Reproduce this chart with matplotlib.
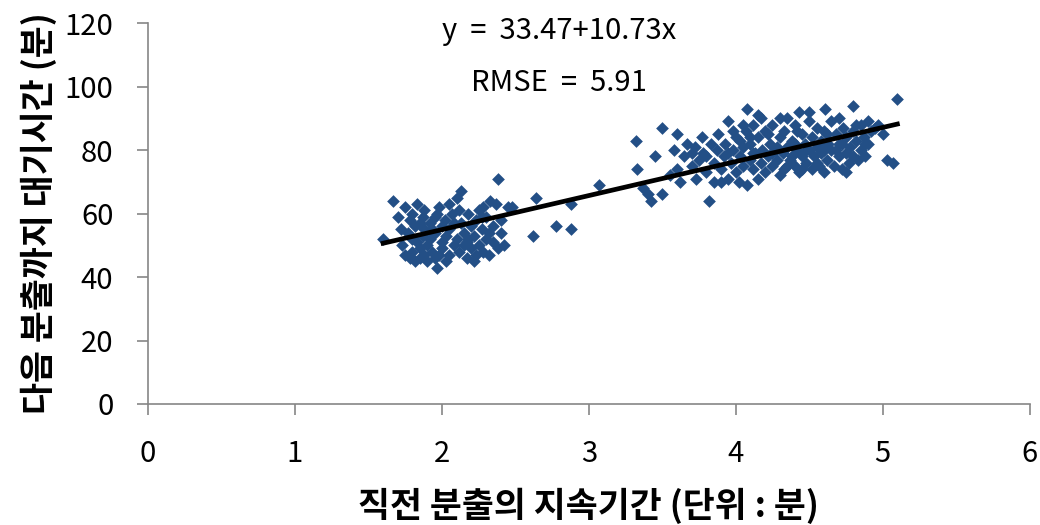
import matplotlib
matplotlib.use('Agg')
import matplotlib.pyplot as plt
import numpy as np

plt.rcParams['font.family'] = ['Noto Sans CJK KR', 'DejaVu Sans']

# 직전 분출 지속시간 (분) / 다음 분출까지 대기시간 (분) - 그림에서 읽은 값
short_x = [1.60, 1.67, 1.70, 1.72, 1.73, 1.75, 1.75, 1.77, 1.78, 1.78, 1.80, 1.80, 1.80,
           1.82, 1.82, 1.83, 1.83, 1.85, 1.85, 1.85, 1.87, 1.87, 1.88, 1.88, 1.90, 1.90,
           1.92, 1.92, 1.93, 1.95, 1.95, 1.97, 1.97, 1.98, 2.00, 2.00, 2.00, 2.02, 2.03,
           2.05, 2.05, 2.07, 2.08, 2.10, 2.10, 2.12, 2.13, 2.13, 2.15, 2.17, 2.17, 2.18,
           2.20, 2.20, 2.22, 2.22, 2.23, 2.25, 2.25, 2.27, 2.28, 2.28, 2.30, 2.30, 2.32,
           2.33, 2.35, 2.35, 2.37, 2.38, 2.38, 2.40, 2.40, 2.42, 2.45, 2.48,
           1.93, 1.98, 2.03, 2.08, 2.12, 2.15, 2.18, 2.23, 2.27, 2.32, 1.88, 1.95, 2.05]
short_y = [52, 64, 59, 55, 50, 62, 47, 54, 46, 58, 60, 48, 52,
           56, 45, 63, 51, 57, 49, 46, 53, 59, 47, 55, 50, 45,
           52, 57, 48, 54, 46, 43, 60, 62, 51, 56, 49, 58, 53,
           47, 55, 60, 50, 52, 65, 48, 67, 57, 54, 46, 51, 60,
           49, 56, 45, 53, 58, 61, 50, 55, 62, 48, 52, 59, 47,
           64, 56, 51, 63, 71, 49, 54, 58, 50, 62, 62,
           55, 47, 45, 57, 61, 50, 52, 47, 59, 54, 61, 59, 63]

mid_x = [2.62, 2.64, 2.78, 2.88, 2.88, 3.07]
mid_y = [53, 65, 56, 55, 63, 69]

long_x = [3.32, 3.33, 3.37, 3.40, 3.42, 3.45, 3.50, 3.50, 3.55, 3.58, 3.60, 3.60, 3.62,
          3.65, 3.67, 3.70, 3.72, 3.73, 3.75, 3.77, 3.78, 3.80, 3.82, 3.83, 3.85, 3.85,
          3.87, 3.88, 3.90, 3.92, 3.93, 3.95, 3.95, 3.97, 3.98, 4.00, 4.00, 4.02, 4.03,
          4.05, 4.05, 4.07, 4.08, 4.08, 4.10, 4.10, 4.12, 4.12, 4.13, 4.15, 4.15, 4.17,
          4.17, 4.18, 4.20, 4.20, 4.22, 4.23, 4.25, 4.25, 4.27, 4.28, 4.30, 4.30, 4.32,
          4.33, 4.33, 4.35, 4.35, 4.37, 4.38, 4.40, 4.40, 4.42, 4.43, 4.43, 4.45, 4.45,
          4.47, 4.48, 4.50, 4.50, 4.52, 4.52, 4.53, 4.55, 4.55, 4.57, 4.58, 4.58, 4.60,
          4.60, 4.61, 4.62, 4.63, 4.65, 4.65, 4.67, 4.68, 4.70, 4.70, 4.72, 4.72, 4.73,
          4.75, 4.75, 4.77, 4.78, 4.80, 4.80, 4.80, 4.82, 4.83, 4.85, 4.85, 4.87, 4.88,
          4.90, 4.92, 4.95, 4.97, 5.00, 5.03, 5.07, 5.10,
          3.90, 4.03, 4.12, 4.22, 4.28, 4.38, 4.42, 4.48, 4.55, 4.62, 4.68, 4.75, 4.82,
          4.88, 4.50, 4.30, 4.15, 3.98, 4.05, 4.35, 4.60, 4.70, 4.45, 4.25, 4.10, 3.95,
          3.80, 3.70, 4.90, 4.40]
long_y = [83, 74, 68, 66, 64, 78, 87, 66, 72, 80, 85, 74, 70,
          78, 82, 75, 81, 71, 77, 84, 79, 73, 64, 82, 76, 70,
          80, 85, 74, 78, 82, 89, 71, 76, 80, 84, 73, 70, 78,
          81, 75, 86, 93, 69, 77, 82, 74, 88, 79, 84, 71, 90,
          76, 80, 86, 73, 78, 82, 75, 88, 80, 77, 84, 72, 79,
          86, 74, 90, 81, 77, 83, 75, 88, 80, 92, 73, 85, 78,
          82, 76, 89, 80, 74, 84, 78, 87, 81, 75, 83, 79, 86,
          73, 93, 77, 82, 89, 80, 75, 85, 78, 90, 82, 74, 87,
          79, 84, 76, 81, 94, 86, 78, 83, 77, 88, 80, 84, 82,
          89, 86, 87, 88, 85, 77, 76, 96,
          70, 83, 79, 85, 81, 78, 86, 80, 76, 85, 80, 73, 88,
          78, 92, 90, 91, 86, 88, 75, 80, 82, 74, 79, 84, 79,
          78, 79, 82, 82]

x = np.array(short_x + mid_x + long_x)
y = np.array(short_y + mid_y + long_y)

# 회귀식 (그림에 표시된 값)
b0, b1 = 33.47, 10.73

fig = plt.figure(figsize=(10.4, 5.25), dpi=100)
ax = fig.add_axes([0.1423, 0.2305, 0.8477, 0.7255])

ax.scatter(x, y, marker='D', s=42, color='#234f86', linewidths=0, zorder=2)
xl = np.array([x.min(), x.max()])
ax.plot(xl, b0 + b1 * xl, color='black', linewidth=3.4, zorder=3)

ax.set_xlim(0, 6)
ax.set_ylim(0, 120)
ax.set_xticks(range(0, 7))
ax.set_yticks(range(0, 121, 20))
for s in ['top', 'right']:
    ax.spines[s].set_visible(False)
for s in ['left', 'bottom']:
    ax.spines[s].set_color('#868686')
    ax.spines[s].set_linewidth(1.2)
ax.tick_params(axis='both', direction='out', length=8, width=1.2, color='#868686',
               labelsize=21)
ax.tick_params(axis='y', pad=17)
ax.tick_params(axis='x', pad=17)

ax.set_xlabel('직전 분출의 지속기간 (단위 : 분)', fontsize=25, fontweight='bold', labelpad=14)
ax.set_ylabel('다음 분출까지 대기시간 (분)', fontsize=25, fontweight='bold')
ax.yaxis.set_label_coords(-0.103, 0.5)

ax.text(2.8, 117.5, 'y  =  33.47+10.73x', fontsize=21, ha='center', va='center')
ax.text(2.8, 101, 'RMSE  =  5.91', fontsize=21, ha='center', va='center')

plt.savefig('out.png', dpi=100)
